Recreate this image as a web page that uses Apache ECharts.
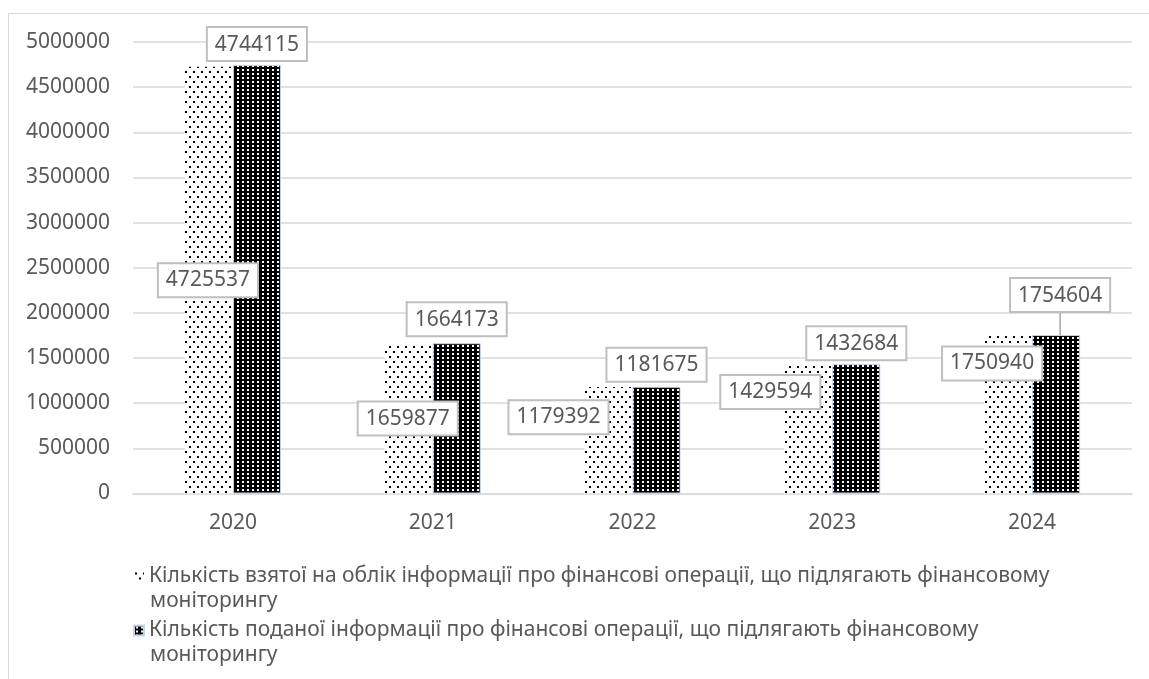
<!DOCTYPE html>
<html>
<head>
<meta charset="utf-8">
<script src="https://cdn.jsdelivr.net/npm/echarts@6/dist/echarts.min.js"></script>
<style>
  html, body { margin: 0; padding: 0; background: #fff; }
  #chart { width: 1149px; height: 679px; }
</style>
</head>
<body>
<div id="chart"></div>
<script>
// Years on the category axis
const years = ['2020', '2021', '2022', '2023', '2024'];

// Series names
const nameTaken = 'Кількість взятої на облік інформації про фінансові операції, що підлягають фінансовому моніторингу';
const nameSubmitted = 'Кількість поданої інформації про фінансові операції, що підлягають фінансовому моніторингу';

// Series values
const takenValues = [4725537, 1659877, 1179392, 1429594, 1750940];
const submittedValues = [4744115, 1664173, 1181675, 1432684, 1754604];

// Value axis ticks
const yMin = 0;
const yMax = 5000000;
const yStep = 500000;

// Manual label shifts (pixels) for the value boxes
const takenLabelShift = [[-1, 0], [-1, 0], [-50, -23], [-38, -37], [-16, -51]];
const submittedLabelShift = [[0, 0], [0, -3], [0, -1], [0, 0], [4, -19]];

const FONT = '"Noto Sans", "Open Sans", sans-serif';
const TEXT = '#595959';
const GRID = '#d9d9d9';

// Dotted fill: black dots on white
function makeDotPattern() {
  const c = document.createElement('canvas');
  c.width = 8; c.height = 10;
  const g = c.getContext('2d');
  g.fillStyle = '#fff';
  g.fillRect(0, 0, 8, 10);
  g.fillStyle = '#000';
  g.fillRect(1, 1, 2, 2);
  g.fillRect(5, 6, 2, 2);
  return c;
}
// Dense fill: small white cells on black
function makeGridPattern() {
  const c = document.createElement('canvas');
  c.width = 5; c.height = 4;
  const g = c.getContext('2d');
  g.fillStyle = '#000';
  g.fillRect(0, 0, 5, 4);
  g.fillStyle = '#fff';
  g.fillRect(2, 1, 2, 2);
  return c;
}

const dotFill = { image: makeDotPattern(), repeat: 'repeat' };
const gridFill = { image: makeGridPattern(), repeat: 'repeat' };

const boxLabel = {
  show: true,
  color: TEXT,
  fontFamily: FONT,
  fontSize: 21,
  backgroundColor: '#fff',
  borderColor: '#bfbfbf',
  borderWidth: 2,
  padding: [6, 7, 5, 7]
};

// Legend names wrap after "фінансовому"; the second line sits under the text
function legendText(name) {
  const cut = name.lastIndexOf(' ');
  return '{t|' + name.slice(0, cut) + '}\n{u|' + name.slice(cut + 1) + '}';
}

// Square swatch sitting at the top of a taller box, so it lines up with the first text line
const legendSwatch = 'path://M0,0L10,0L10,10L0,10Z M0,35L0.01,35Z';

const LEGEND_SIZE = 21;

const chart = echarts.init(document.getElementById('chart'), null, { renderer: 'canvas' });

chart.setOption({
  animation: false,
  backgroundColor: '#fff',
  graphic: [{
    type: 'rect',
    silent: true,
    z: -10,
    shape: { x: 8.5, y: 13.5, width: 1300, height: 800 },
    style: { fill: null, stroke: GRID, lineWidth: 1 }
  }],
  grid: { left: 133, right: 17, top: 42, bottom: 185.5, containLabel: false },
  legend: {
    orient: 'vertical',
    left: 133,
    top: 564,
    height: 400,
    padding: 0,
    itemWidth: 10,
    itemHeight: 35,
    itemGap: 4,
    icon: legendSwatch,
    data: [nameTaken, nameSubmitted],
    formatter: legendText,
    textStyle: {
      color: TEXT,
      fontFamily: FONT,
      fontSize: LEGEND_SIZE,
      lineHeight: 25,
      align: 'left',
      rich: {
        t: { color: TEXT, fontFamily: FONT, fontSize: LEGEND_SIZE, lineHeight: 25 },
        u: { color: TEXT, fontFamily: FONT, fontSize: LEGEND_SIZE, lineHeight: 25, padding: [0, 0, 0, 1] }
      }
    }
  },
  xAxis: {
    type: 'category',
    data: years,
    axisLine: { show: true, lineStyle: { color: GRID, width: 1.5 } },
    axisTick: { show: false },
    axisLabel: { color: TEXT, fontFamily: FONT, fontSize: 21, margin: 19 }
  },
  yAxis: {
    type: 'value',
    min: yMin,
    max: yMax,
    interval: yStep,
    axisLine: { show: false },
    axisTick: { show: false },
    splitLine: { lineStyle: { color: GRID, width: 1.5 } },
    axisLabel: {
      color: TEXT, fontFamily: FONT, fontSize: 21, margin: 23,
      formatter: function (v) { return String(v); }
    }
  },
  series: [
    {
      name: nameTaken,
      type: 'bar',
      data: takenValues,
      barWidth: 48,
      barGap: '0%',
      itemStyle: { color: dotFill },
      label: Object.assign({}, boxLabel, { position: 'inside' }),
      labelLayout: function (p) {
        const s = takenLabelShift[p.dataIndex];
        return { dx: s[0], dy: s[1] };
      },
      z: 2
    },
    {
      name: nameSubmitted,
      type: 'bar',
      data: submittedValues.map(function (v, i) {
        return i === 4 ? { value: v, labelLine: { show: true } } : v;
      }),
      barWidth: 48,
      barGap: '0%',
      itemStyle: { color: gridFill, borderColor: '#c5d3ec', borderWidth: 1 },
      label: Object.assign({}, boxLabel, { position: 'top', distance: 5 }),
      labelLine: { show: false, lineStyle: { color: '#a6a6a6', width: 1.5 } },
      labelLayout: function (p) {
        const s = submittedLabelShift[p.dataIndex];
        return { dx: s[0], dy: s[1] };
      },
      z: 2
    }
  ]
});
</script>
</body>
</html>
